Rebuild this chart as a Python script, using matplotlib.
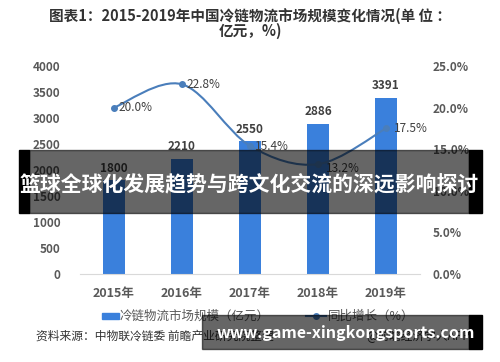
import numpy as np
import matplotlib
matplotlib.use("Agg")
import matplotlib.pyplot as plt
from matplotlib.path import Path
from matplotlib.patches import PathPatch, Rectangle

plt.rcParams['font.family'] = ['Noto Sans CJK SC', 'DejaVu Sans']

years = ["2015年", "2016年", "2017年", "2018年", "2019年"]
market_size = [1800, 2210, 2550, 2886, 3391]
growth = [20.0, 22.8, 15.4, 13.2, 17.5]
left_ticks = [0, 500, 1000, 1500, 2000, 2500, 3000, 3500, 4000]
right_ticks = [0, 5, 10, 15, 20, 25]

bar_color = "#3a80dc"
line_color = "#4a7ebb"
text_grey = "#595959"

W, H = 500, 362
fig = plt.figure(figsize=(5, 3.62), dpi=100)
ax = fig.add_axes([80 / W, 1 - 274 / H, 340 / W, 208 / H])
x = np.arange(len(years))

ax.bar(x, market_size, width=0.31, color=bar_color, zorder=2)
for xi, v in zip(x, market_size):
    ax.text(xi, v + 110, str(v), ha="center", va="bottom", fontsize=8.5,
            fontweight="bold", color="#404040")
ax.set_xlim(-0.5, len(years) - 0.5)
ax.set_ylim(0, 4000)
ax.set_yticks(left_ticks)
ax.set_xticks(x)
ax.set_xticklabels(years)
ax.tick_params(axis="both", length=0, labelsize=8.5, colors=text_grey, pad=14)
ax.tick_params(axis="x", pad=9, labelsize=9)
for lab in ax.get_yticklabels() + ax.get_xticklabels():
    lab.set_fontweight("bold")
for s in ["top", "right", "left"]:
    ax.spines[s].set_visible(False)
ax.spines["bottom"].set_color("#d9d9d9")

ax2 = ax.twinx()
ax2.set_ylim(0, 25)
ax2.set_yticks(right_ticks)
ax2.set_yticklabels([f"{t:.1f}%" for t in right_ticks])
ax2.tick_params(axis="y", length=0, labelsize=8.5, colors=text_grey, pad=9)
for lab in ax2.get_yticklabels():
    lab.set_fontweight("bold")
for s in ax2.spines.values():
    s.set_visible(False)

# smoothed line (bezier through the points, like the office chart)
pts = np.column_stack([x, growth]).astype(float)
verts = [tuple(pts[0])]
codes = [Path.MOVETO]
for i in range(len(pts) - 1):
    p0 = pts[i - 1] if i > 0 else pts[i]
    p1, p2 = pts[i], pts[i + 1]
    p3 = pts[i + 2] if i + 2 < len(pts) else pts[i + 1]
    c1 = p1 + (p2 - p0) / 6
    c2 = p2 - (p3 - p1) / 6
    verts += [tuple(c1), tuple(c2), tuple(p2)]
    codes += [Path.CURVE4] * 3
ax2.add_patch(PathPatch(Path(verts, codes), fill=False, edgecolor=line_color,
                        lw=1.5, zorder=3))
ax2.plot(x, growth, "o", color=line_color, ms=4, zorder=4)
offsets = [(0.07, 0), (0.07, 0), (0.07, -0.1), (0.12, -0.5), (0.12, 0)]
for xi, v, (dx, dy) in zip(x, growth, offsets):
    ax2.text(xi + dx, v + dy, f"{v:.1f}%", ha="left", va="center",
             fontsize=8.5, color="#404040")

# title
fig.text(0.5, 1 - 16 / H, "图表1：2015-2019年中国冷链物流市场规模变化情况(单 位 ：",
         ha="center", va="center", fontsize=10.5, fontweight="bold", color="#333333")
fig.text(0.5, 1 - 31 / H, "亿元，%)", ha="center", va="center",
         fontsize=10.5, fontweight="bold", color="#333333")

# legend
fig.patches.append(Rectangle((102 / W, 1 - 319 / H), 17 / W, 6 / H,
                             transform=fig.transFigure, color=bar_color))
fig.text(120 / W, 1 - 316 / H, "冷链物流市场规模（亿元）", ha="left", va="center",
         fontsize=9, color=text_grey)
fig.lines.append(plt.Line2D([306 / W, 326 / W], [1 - 316 / H] * 2,
                            transform=fig.transFigure, color=line_color, lw=1.5))
fig.lines.append(plt.Line2D([316 / W], [1 - 316 / H], transform=fig.transFigure,
                            marker="o", ms=4, color=line_color))
fig.text(328 / W, 1 - 316 / H, "同比增长（%）", ha="left", va="center",
         fontsize=9, color=text_grey)

# source
fig.text(36 / W, 1 - 336 / H, "资料来源：中物联冷链委 前瞻产业研究院整理", ha="left",
         va="center", fontsize=8.5, color="#333333")
fig.text(470 / W, 1 - 336 / H, "@前瞻经济学人APP", ha="right",
         va="center", fontsize=8.5, color="#333333")

# overlay banners
def band(x0, x1, y0, y1, alpha):
    fig.patches.append(Rectangle((x0 / W, 1 - y1 / H), (x1 - x0) / W, (y1 - y0) / H,
                                 transform=fig.transFigure, color="black",
                                 alpha=alpha, zorder=10))

band(19, 29, 150, 213, 1)
band(29, 469, 150, 213, 0.6)
band(469, 482, 150, 213, 1)
fig.text(249 / W, 1 - 185 / H, "篮球全球化发展趋势与跨文化交流的深远影响探讨",
         ha="center", va="center", fontsize=15, fontweight="bold",
         color="white", zorder=11)

band(202, 469, 315, 349, 0.6)
band(469, 482, 315, 349, 1)
fig.text(346 / W, 1 - 333 / H, "www.game-xingkongsports.com", ha="center",
         va="center", fontsize=11.5, fontweight="bold", color="white", zorder=11)

fig.savefig("out.png", dpi=100)
